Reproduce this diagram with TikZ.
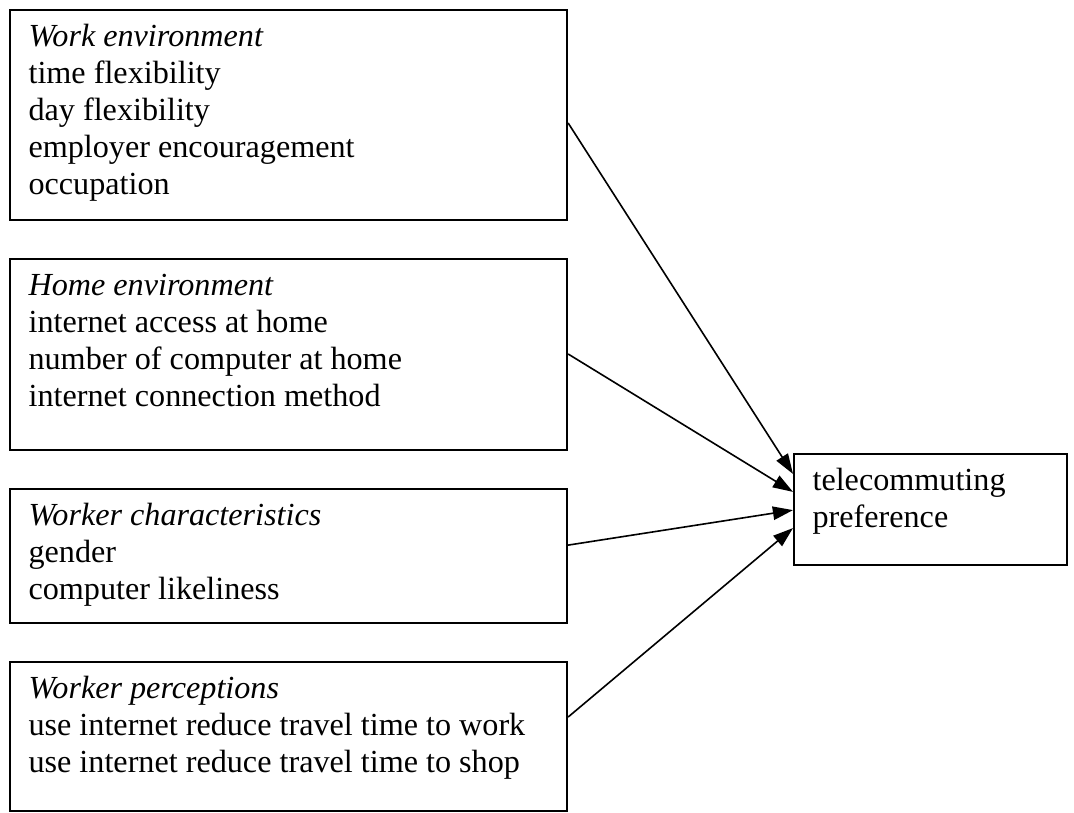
\documentclass[tikz,border=0pt]{standalone}
\usepackage{fontspec}
\setmainfont{Liberation Serif}
\usepackage{tikz}
\usetikzlibrary{arrows.meta}

\begin{document}
\begin{tikzpicture}[x=0.373pt, y=-0.373pt,
  box/.style={draw, line width=0.75pt, inner sep=0pt, anchor=north west},
  lbl/.style={anchor=north west, inner sep=0pt, align=left,
    font=\fontsize{12}{13.8}\selectfont, xshift=7.1pt, yshift=-4.1pt},
  arr/.style={-{Triangle[length=7.5pt,width=5pt]}, line width=0.6pt}]
\useasboundingbox (0,0) rectangle (1074,812);
% factor boxes
\node[box, minimum width=207.8pt, minimum height=78.3pt] (work) at (9,9) {};
\node[box, minimum width=207.8pt, minimum height=71.2pt] (home) at (9,258) {};
\node[box, minimum width=207.8pt, minimum height=50pt] (chars) at (9,488) {};
\node[box, minimum width=207.8pt, minimum height=55.6pt] (percep) at (9,661) {};
\node[box, minimum width=101.8pt, minimum height=41.4pt] (pref) at (793,453) {};
% texts
\node[lbl] (worktxt) at (work.north west) {\strut\textit{Work environment}\\time flexibility\\day flexibility\\employer encouragement\\occupation};
\node[lbl] (hometxt) at (home.north west) {\strut\textit{Home environment}\\internet access at home\\number of computer at home\\internet connection method};
\node[lbl] (charstxt) at (chars.north west) {\strut\textit{Worker characteristics}\\gender\\computer likeliness};
\node[lbl] (perceptxt) at (percep.north west) {\strut\textit{Worker perceptions}\\use internet reduce travel time to work\\use internet reduce travel time to shop};
\node[lbl] (preftxt) at (pref.north west) {\strut telecommuting\\preference};
% arrows
\draw[arr] ([yshift=-42.5pt]work.north east) -- ([yshift=-7.8pt]pref.north west);
\draw[arr] ([yshift=-35.8pt]home.north east) -- ([yshift=-14.5pt]pref.north west);
\draw[arr] ([yshift=-21.3pt]chars.north east) -- ([yshift=-21.3pt]pref.north west);
\draw[arr] ([yshift=-20.9pt]percep.north east) -- ([yshift=-28pt]pref.north west);
\end{tikzpicture}
\end{document}
